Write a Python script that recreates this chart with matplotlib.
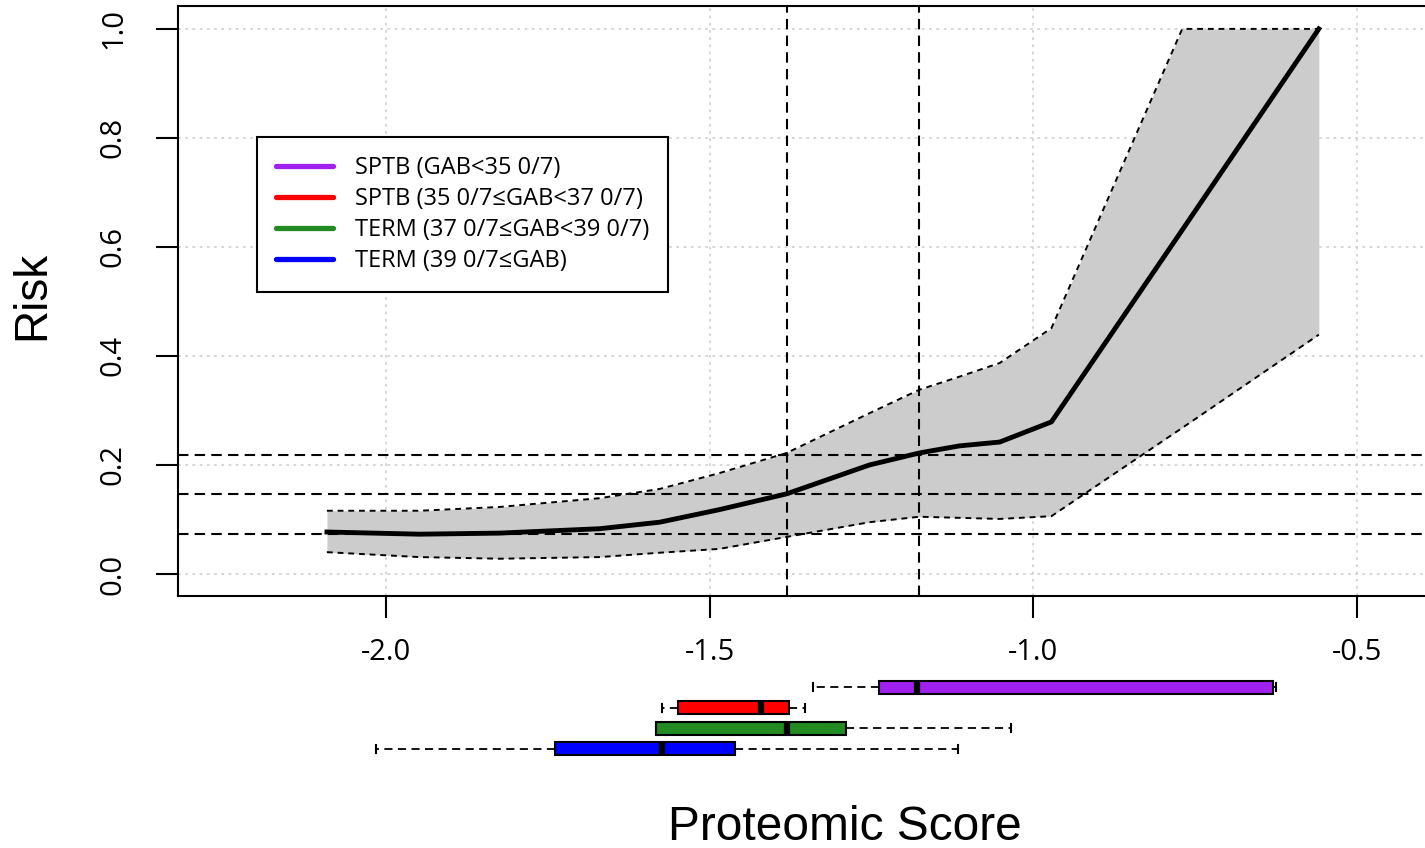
import matplotlib
matplotlib.use("Agg")
import matplotlib.pyplot as plt
from matplotlib.lines import Line2D

plt.rcParams['axes.unicode_minus'] = False
TICKFONT = ['Open Sans', 'DejaVu Sans']

# risk curve with its confidence band
score = [-2.091, -1.948, -1.824, -1.670, -1.577, -1.485, -1.381, -1.253,
         -1.176, -1.114, -1.052, -0.972, -0.770, -0.559]
risk = [0.077, 0.073, 0.075, 0.083, 0.095, 0.118, 0.147, 0.200,
        0.222, 0.235, 0.242, 0.279, 0.631, 1.000]
risk_hi = [0.116, 0.116, 0.123, 0.139, 0.156, 0.185, 0.222, 0.295,
           0.338, 0.362, 0.387, 0.451, 1.000, 1.000]
risk_lo = [0.040, 0.031, 0.028, 0.031, 0.039, 0.046, 0.068, 0.095,
           0.105, 0.103, 0.101, 0.106, 0.268, 0.439]

# reference cut-offs
cut_risk = [0.218, 0.147, 0.073]
cut_score = [-1.381, -1.176]

# score distribution per group (boxplots under the axis)
groups = ['SPTB (GAB<35 0/7)', 'SPTB (35 0/7\u2264GAB<37 0/7)',
          'TERM (37 0/7\u2264GAB<39 0/7)', 'TERM (39 0/7\u2264GAB)']
colors = ['#A020F0', '#FF0000', '#228B22', '#0000FF']
whislo = [-1.341, -1.573, -1.583, -2.015]
q1 = [-1.238, -1.549, -1.583, -1.738]
med = [-1.179, -1.420, -1.381, -1.574]
q3 = [-0.630, -1.378, -1.289, -1.460]
whishi = [-0.625, -1.352, -1.034, -1.117]

xticks = [-2.0, -1.5, -1.0, -0.5]
yticks = [0.0, 0.2, 0.4, 0.6, 0.8, 1.0]

W, H = 1425, 848
fig = plt.figure(figsize=(W / 100, H / 100), dpi=100)

ax = fig.add_axes([178 / W, 1 - 596 / H, (W - 178) / W, 590 / H])
ax.set_xlim(-2.321, -0.395)
ax.set_ylim(-0.0404, 1.042)

ax.fill_between(score, risk_lo, risk_hi, color='#cccccc', lw=0, zorder=1)
ax.plot(score, risk_hi, color='black', lw=1.4, ls=(0, (3, 2.5)), zorder=2)
ax.plot(score, risk_lo, color='black', lw=1.4, ls=(0, (3, 2.5)), zorder=2)
ax.plot(score, risk, color='black', lw=3.5, zorder=3)

for r in cut_risk:
    ax.axhline(r, color='black', lw=1.5, ls=(0, (5, 3)), zorder=4)
for s in cut_score:
    ax.axvline(s, color='black', lw=1.5, ls=(0, (5, 3)), zorder=4)

ax.set_xticks(xticks)
ax.set_xticklabels(['%.1f' % v for v in xticks], family=TICKFONT)
ax.set_yticks(yticks)
ax.set_yticklabels(['%.1f' % v for v in yticks], family=TICKFONT)
ax.tick_params(axis='both', length=16, width=1.5, labelsize=21)
ax.tick_params(axis='x', pad=14)
ax.tick_params(axis='y', pad=20, labelrotation=90)
for lab in ax.get_yticklabels():
    lab.set_va('center')

ax.grid(True, color='#d3d3d3', lw=1.3, ls=(0, (1.5, 2.5)))
ax.set_axisbelow(True)
for side in ['left', 'bottom', 'top']:
    ax.spines[side].set_linewidth(1.5)
ax.spines['right'].set_visible(False)

handles = [Line2D([], [], color=c, lw=3.8, solid_capstyle='round') for c in colors]
leg = ax.legend(handles, groups, loc='upper left',
                bbox_to_anchor=(257 / W, 1 - 137 / H), bbox_transform=fig.transFigure,
                fancybox=False, edgecolor='black', framealpha=1,
                prop={'family': TICKFONT, 'size': 17},
                handlelength=2.4, handletextpad=0.95, labelspacing=0.3,
                borderpad=0.8, borderaxespad=0)
leg.get_frame().set_linewidth(1.5)

# boxplots below the x axis
bax = fig.add_axes([178 / W, 1 - 769 / H, (W - 178) / W, 102 / H])
bax.set_xlim(ax.get_xlim())
bax.set_ylim(0.025, 4.975)
bax.axis('off')
stats = []
for i in range(len(groups)):
    stats.append(dict(whislo=whislo[i], q1=q1[i], med=med[i], q3=q3[i],
                      whishi=whishi[i], fliers=[]))
bp = bax.bxp(stats, positions=[4, 3, 2, 1], widths=0.63, orientation='horizontal',
             patch_artist=True, showfliers=False, capwidths=0.39,
             boxprops=dict(edgecolor='black', lw=1.5),
             medianprops=dict(color='black', lw=4.5, solid_capstyle='butt'),
             whiskerprops=dict(color='black', lw=1.3, ls=(0, (4.5, 3))),
             capprops=dict(color='black', lw=1.5))
for patch, c in zip(bp['boxes'], colors):
    patch.set_facecolor(c)

fig.text(32 / W, 1 - 295 / H, 'Risk', rotation=90, ha='center', va='center',
         fontsize=33, family='Liberation Sans')
fig.text(845 / W, 1 - 828 / H, 'Proteomic Score', ha='center', va='center',
         fontsize=34.5, family='Liberation Sans')

fig.savefig('out.png', dpi=100)
